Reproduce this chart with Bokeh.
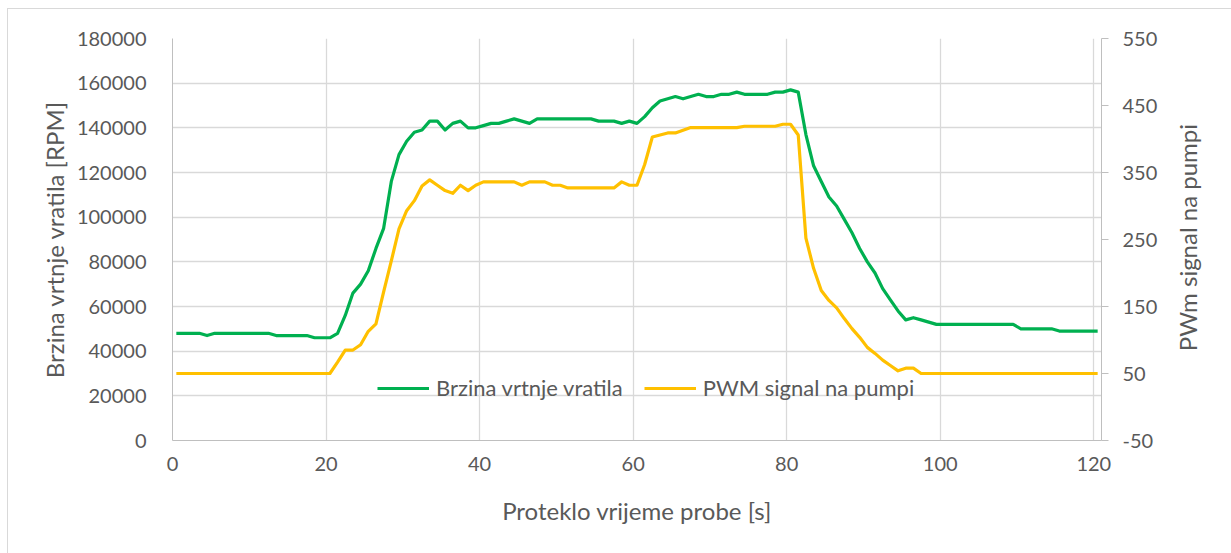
from bokeh.plotting import figure
from bokeh.models import LinearAxis, Range1d, FixedTicker, PrintfTickFormatter, Div
from bokeh.layouts import row
from bokeh.embed import file_html
from bokeh.resources import INLINE

# ---- data ----
time_s = [i + 0.5 for i in range(121)]

speed_rpm = ([48000] * 4 + [47000] + [48000] * 8 + [47000] * 5 + [46000] * 3 +
             [48000, 56000, 66000, 70000, 76000, 86000, 95000, 116000, 128000, 134000,
              138000, 139000, 143000, 143000, 139000, 142000, 143000, 140000, 140000, 141000,
              142000, 142000, 143000, 144000, 143000, 142000] +
             [144000] * 8 + [143000] * 3 +
             [142000, 143000, 142000, 145000, 149000, 152000, 153000, 154000, 153000, 154000,
              155000, 154000, 154000, 155000, 155000, 156000, 155000, 155000, 155000, 155000,
              156000, 156000, 157000, 156000] +
             [137000, 123000, 116000, 109000, 105000, 99000, 93000, 86000, 80000, 75000,
              68000, 63000, 58000, 54000, 55000, 54000, 53000] +
             [52000] * 11 + [50000] * 5 + [49000] * 6)

pwm_signal = ([50] * 21 +
              [67, 85, 85, 93, 113, 124, 172, 218, 266, 293, 308, 330, 339, 331, 323, 319, 331, 323, 331] +
              [336] * 5 + [331] + [336] * 3 + [331, 331] + [327] * 7 +
              [336, 331, 331, 362, 403, 406, 409, 409, 413] +
              [417] * 7 + [419] * 5 +
              [422, 422, 406, 252, 207, 174, 159, 148, 132, 117, 104, 89, 80, 70, 62, 54, 58, 58] +
              [50] * 24)

left_ticks = [0, 20000, 40000, 60000, 80000, 100000, 120000, 140000, 160000, 180000]
right_ticks = [-50, 50, 150, 250, 350, 450, 550]
x_ticks = [0, 20, 40, 60, 80, 100, 120]

series_names = ["Brzina vrtnje vratila", "PWM signal na pumpi"]
series_colors = ["#00B050", "#FFC000"]
right_title = "PWm signal na pumpi"

FONT = "Lato"
TXT = "#595959"
GRID = "#D9D9D9"
AXIS = "#BFBFBF"

p = figure(width=1163, height=544, x_range=Range1d(0, 121), y_range=Range1d(0, 180000),
           output_backend="svg", toolbar_location=None,
           min_border_left=164, min_border_right=70, min_border_top=29, min_border_bottom=113)
p.outline_line_color = None
p.background_fill_color = "white"
p.border_fill_color = "white"

p.extra_y_ranges = {"pwm": Range1d(-50, 550)}

# left axis
ya = p.yaxis[0]
ya.ticker = FixedTicker(ticks=left_ticks)
ya.axis_label = "Brzina vrtnje vratila [RPM]"
ya.axis_line_color = AXIS
ya.major_tick_line_color = None
ya.minor_tick_line_color = None
ya.major_label_standoff = 20
ya.axis_label_standoff = 5
ya.major_label_text_font = FONT
ya.major_label_text_font_size = "20px"
ya.major_label_text_color = TXT
ya.axis_label_text_font = FONT
ya.axis_label_text_font_size = "24px"
ya.axis_label_text_font_style = "normal"
ya.axis_label_text_color = TXT
ya.formatter.use_scientific = False

# bottom axis
xa = p.xaxis[0]
xa.ticker = FixedTicker(ticks=x_ticks)
xa.axis_label = "Proteklo vrijeme probe [s]"
xa.axis_line_color = AXIS
xa.major_tick_line_color = None
xa.minor_tick_line_color = None
xa.major_label_standoff = 10
xa.axis_label_standoff = 22
xa.major_label_text_font = FONT
xa.major_label_text_font_size = "20px"
xa.major_label_text_color = TXT
xa.axis_label_text_font = FONT
xa.axis_label_text_font_size = "24px"
xa.axis_label_text_font_style = "normal"
xa.axis_label_text_color = TXT

# right axis
ra = LinearAxis(y_range_name="pwm", ticker=FixedTicker(ticks=right_ticks),
                formatter=PrintfTickFormatter(format="%d"))
ra.axis_line_color = AXIS
ra.major_tick_line_color = AXIS
ra.major_tick_in = 0
ra.major_tick_out = 7
ra.minor_tick_line_color = None
ra.major_label_standoff = 14
ra.major_label_text_font = FONT
ra.major_label_text_font_size = "20px"
ra.major_label_text_color = TXT
p.add_layout(ra, "right")

p.xgrid.grid_line_color = GRID
p.xgrid.ticker = FixedTicker(ticks=x_ticks)
p.ygrid.grid_line_color = GRID
p.ygrid.ticker = FixedTicker(ticks=left_ticks)
p.xgrid.grid_line_width = 1.3
p.ygrid.grid_line_width = 1.3

p.line(time_s, speed_rpm, line_color=series_colors[0], line_width=3.2,
       line_join="round", legend_label=series_names[0])
p.line(time_s, pwm_signal, line_color=series_colors[1], line_width=3.2,
       line_join="round", y_range_name="pwm", legend_label=series_names[1])

lg = p.legend[0]
lg.orientation = "horizontal"
lg.location = (205, 39)
lg.background_fill_alpha = 0
lg.border_line_color = None
lg.padding = 0
lg.margin = 0
lg.spacing = 21
lg.label_standoff = 7
lg.glyph_width = 52
lg.glyph_height = 20
lg.label_height = 20
lg.label_text_font = FONT
lg.label_text_font_size = "22px"
lg.label_text_color = TXT

# right axis title (reads bottom-to-top as in the reference)
title_html = (
    '<div style="width:60px;height:458px;display:flex;flex-direction:row;'
    'align-items:center;padding-left:2px;box-sizing:border-box;">'
    '<span style="writing-mode:vertical-rl;transform:rotate(180deg);'
    'font-family:Lato;font-size:24px;line-height:29px;color:#595959;white-space:nowrap;">'
    + right_title + '</span></div>'
)
right_label = Div(text=title_html, width=60, height=544, margin=0,
                  styles={"background-color": "white"})

layout = row(p, right_label, spacing=0)
layout.styles = {"margin-left": "7px", "margin-top": "8px",
                 "border-top": "1px solid #D9D9D9", "border-left": "1px solid #D9D9D9",
                 "background-color": "white"}

open("out.html", "w").write(file_html(layout, INLINE))
